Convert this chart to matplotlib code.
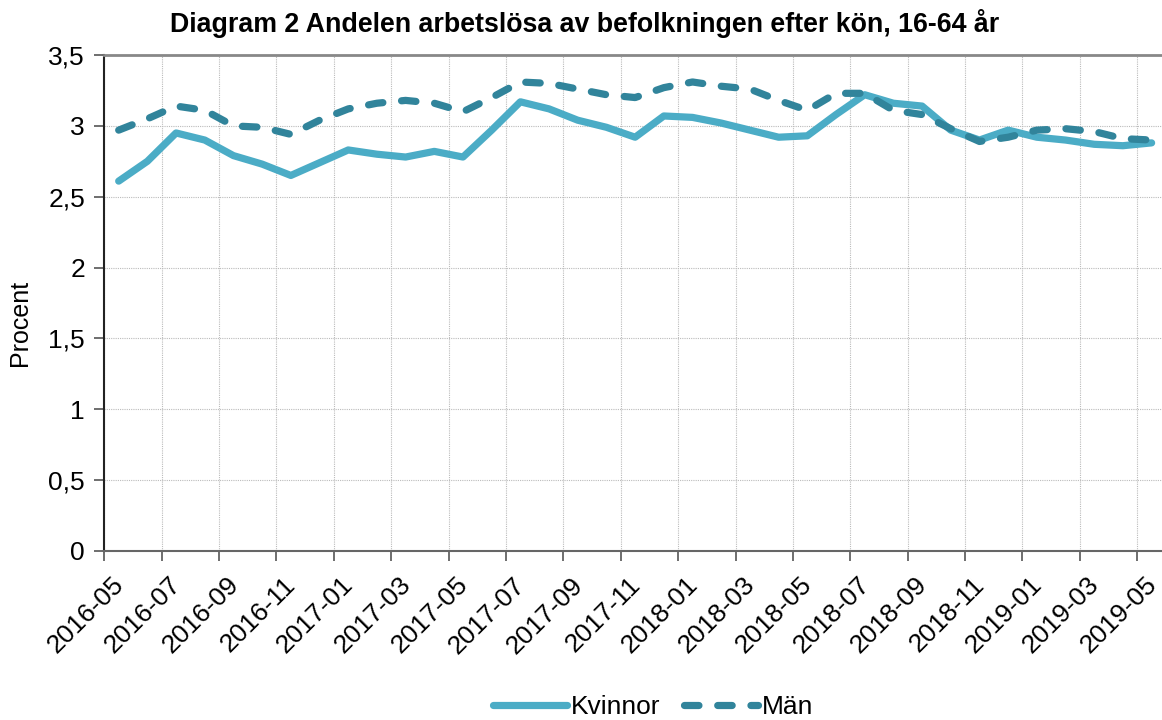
import numpy as np
import matplotlib
matplotlib.use("Agg")
import matplotlib.pyplot as plt
from matplotlib.transforms import ScaledTranslation

plt.rcParams['font.family'] = ['Liberation Sans', 'DejaVu Sans']

# monthly values 2016-05 .. 2019-05 (percent)
kvinnor = [2.61, 2.75, 2.95, 2.90, 2.79, 2.73, 2.65, 2.74, 2.83, 2.80, 2.78, 2.82,
           2.78, 2.97, 3.17, 3.12, 3.04, 2.99, 2.92, 3.07, 3.06, 3.02, 2.97, 2.92,
           2.93, 3.08, 3.22, 3.16, 3.14, 2.97, 2.90, 2.97, 2.92, 2.90, 2.87, 2.86, 2.88]
man = [2.97, 3.05, 3.14, 3.11, 3.00, 2.99, 2.94, 3.04, 3.12, 3.16, 3.18, 3.16,
       3.10, 3.20, 3.31, 3.30, 3.26, 3.22, 3.20, 3.27, 3.31, 3.28, 3.26, 3.18,
       3.11, 3.23, 3.23, 3.11, 3.08, 2.98, 2.89, 2.92, 2.97, 2.98, 2.96, 2.91, 2.90]
tick_labels = ['2016-05', '2016-07', '2016-09', '2016-11', '2017-01', '2017-03',
               '2017-05', '2017-07', '2017-09', '2017-11', '2018-01', '2018-03',
               '2018-05', '2018-07', '2018-09', '2018-11', '2019-01', '2019-03',
               '2019-05']
y_ticks = [0, 0.5, 1, 1.5, 2, 2.5, 3, 3.5]

LIGHT = '#4bacc6'
DARK = '#31849b'

fig = plt.figure(figsize=(11.62, 7.2), dpi=100)
ax = fig.add_axes([0.0898, 0.2351, 0.9136, 0.6884])

x = np.arange(len(kvinnor)) + 0.5  # points sit between the tick marks
ax.plot(x, kvinnor, color=LIGHT, lw=5.2, solid_capstyle='round',
        solid_joinstyle='round', label='Kvinnor')
ax.plot(x, man, color=DARK, lw=5.2, linestyle=(0, (2.0, 2.6)),
        dash_capstyle='round', label='Män')

ax.set_xlim(0, len(kvinnor))
ax.set_ylim(0, 3.5)
ax.set_xticks(np.arange(0, len(kvinnor), 2))
ax.set_xticklabels(tick_labels, rotation=45, ha='right', va='top', fontsize=19)
ax.set_yticks(y_ticks)
ax.set_yticklabels([f'{v:g}'.replace('.', ',') for v in y_ticks], fontsize=19)
ax.tick_params(axis='both', direction='out', length=7, width=1.2, color='#555555')
ax.tick_params(axis='y', pad=7)
ax.tick_params(axis='x', pad=3)

# shift the rotated labels right and down like the original
off = ScaledTranslation(24 / 100, -8 / 100, fig.dpi_scale_trans)
for lab in ax.get_xticklabels():
    lab.set_transform(lab.get_transform() + off)

ax.grid(True, color='#bbbbbb', linestyle=(0, (1, 1)), linewidth=0.8)
ax.set_axisbelow(True)

ax.spines['top'].set_color('#888888')
ax.spines['top'].set_linewidth(2)
ax.spines['left'].set_color('#222222')
ax.spines['left'].set_linewidth(1.5)
ax.spines['bottom'].set_color('#666666')
ax.spines['bottom'].set_linewidth(1.5)
ax.spines['right'].set_visible(False)

ax.set_ylabel('Procent', fontsize=18)
ax.yaxis.set_label_coords(-0.068, 0.46)

fig.text(0.503, 0.968, 'Diagram 2 Andelen arbetslösa av befolkningen efter kön, 16-64 år',
         ha='center', va='center', fontsize=19.3, fontweight='bold')

fig.legend(loc='center', bbox_to_anchor=(653 / 1162, 1 - 707 / 720), ncol=2,
           frameon=False, fontsize=19, handlelength=2.8, columnspacing=0.9,
           handletextpad=0.15)

fig.savefig('out.png', dpi=100)
